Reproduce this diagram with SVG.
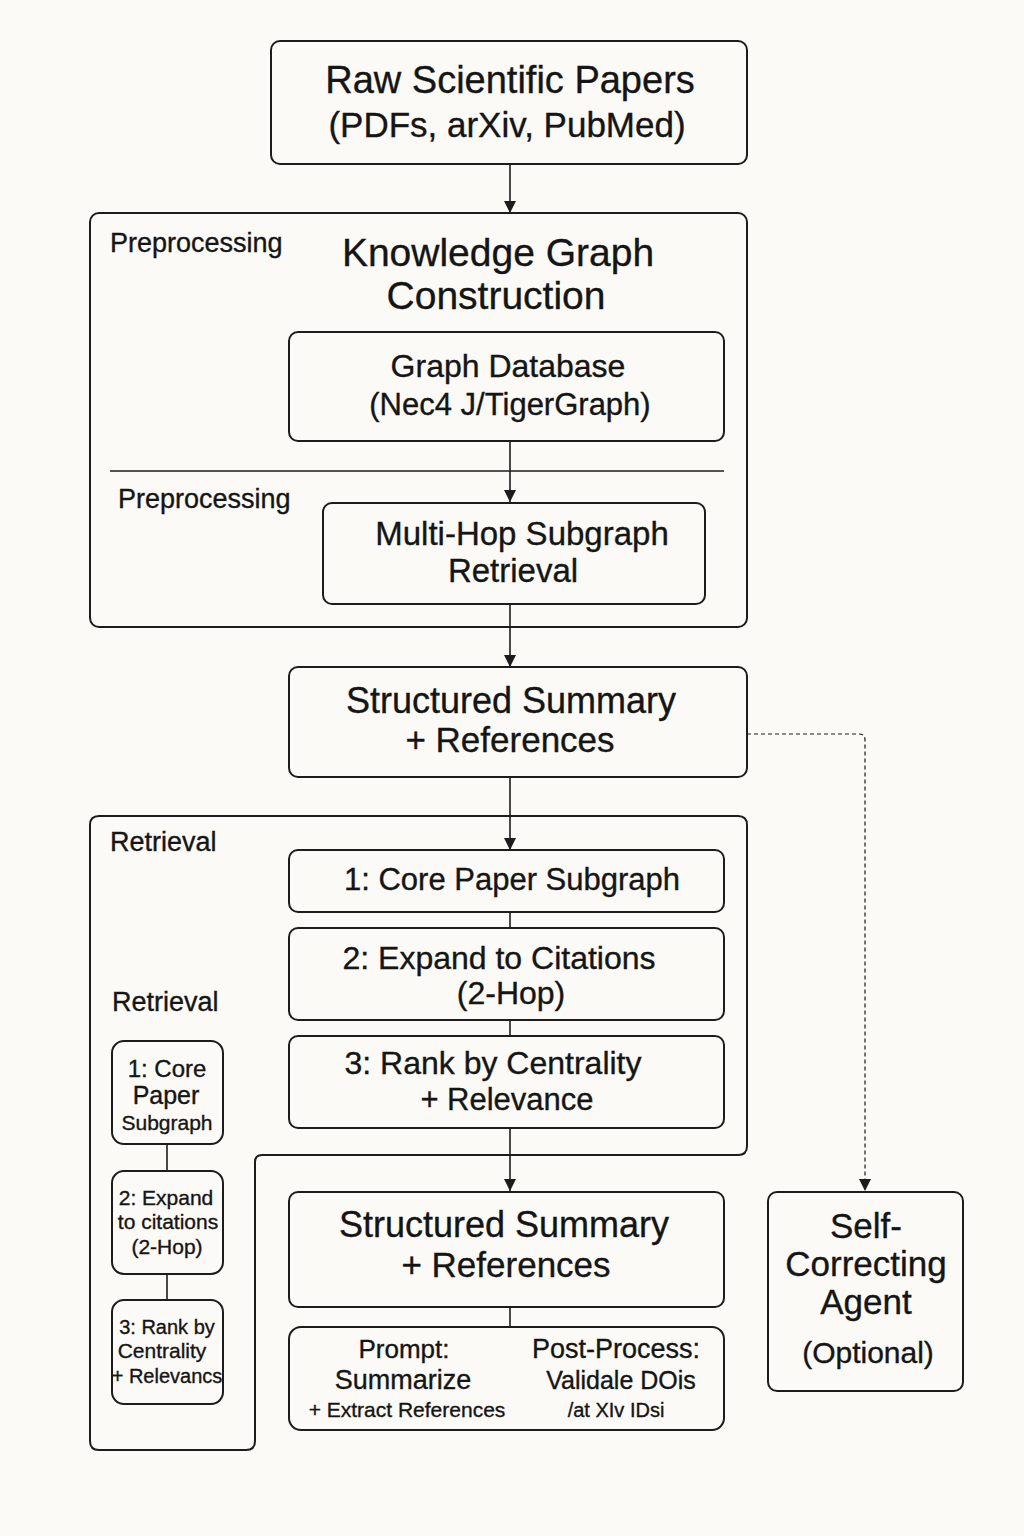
<svg xmlns="http://www.w3.org/2000/svg" width="1024" height="1536" viewBox="0 0 1024 1536">
<defs>
<marker id="ah" viewBox="0 0 12 12" refX="12" refY="6" markerWidth="12" markerHeight="12" markerUnits="userSpaceOnUse" orient="auto">
<path d="M0,0 L12,6 L0,12 Z" fill="#1c1c1c"/>
</marker>
<style>
.box{fill:none;stroke:#1c1c1c;stroke-width:2}
.ln{fill:none;stroke:#1c1c1c;stroke-width:1.6}
.dash{fill:none;stroke:#1c1c1c;stroke-width:1.2;stroke-dasharray:4 3}
text{font-family:"Liberation Sans",Arial,sans-serif;fill:#151515;stroke:#151515;stroke-width:0.35}
.c{text-anchor:middle}
</style>
</defs>
<rect width="1024" height="1536" fill="#fbfaf6"/>

<g id="connectors">
<line class="ln" x1="510" y1="164" x2="510" y2="213" marker-end="url(#ah)"/>
<line class="ln" x1="510" y1="441" x2="510" y2="502" marker-end="url(#ah)"/>
<line class="ln" x1="110" y1="471" x2="724" y2="471"/>
<line class="ln" x1="510" y1="604" x2="510" y2="667" marker-end="url(#ah)"/>
<line class="ln" x1="510" y1="777" x2="510" y2="850" marker-end="url(#ah)"/>
<line class="ln" x1="510" y1="912" x2="510" y2="928"/>
<line class="ln" x1="510" y1="1020" x2="510" y2="1036"/>
<line class="ln" x1="510" y1="1128" x2="510" y2="1191" marker-end="url(#ah)"/>
<line class="ln" x1="510" y1="1307" x2="510" y2="1327"/>
<line class="ln" x1="167" y1="1144" x2="167" y2="1171"/>
<line class="ln" x1="167" y1="1274" x2="167" y2="1300"/>
<path class="dash" d="M747,734 H859 Q865,734 865,740 V1191" marker-end="url(#ah)"/>
</g>

<g id="raw-papers">
<rect class="box" x="271" y="41" width="476" height="123" rx="9"/>
<text class="c" x="510" y="93" font-size="38">Raw Scientific Papers</text>
<text class="c" x="507" y="137" font-size="35">(PDFs, arXiv, PubMed)</text>
</g>

<g id="preprocessing-panel">
<rect class="box" x="90" y="213" width="657" height="414" rx="9"/>
<text x="110" y="252" font-size="27">Preprocessing</text>
<text class="c" x="498" y="266" font-size="39">Knowledge Graph</text>
<text class="c" x="496" y="309" font-size="39">Construction</text>
<text x="118" y="508" font-size="27">Preprocessing</text>
</g>

<g id="graph-database">
<rect class="box" x="289" y="332" width="435" height="109" rx="9"/>
<text class="c" x="508" y="377" font-size="32">Graph Database</text>
<text class="c" x="510" y="415" font-size="31">(Nec4 J/TigerGraph)</text>
</g>

<g id="multi-hop">
<rect class="box" x="323" y="503" width="382" height="101" rx="9"/>
<text class="c" x="522" y="545" font-size="33">Multi-Hop Subgraph</text>
<text class="c" x="513" y="582" font-size="33">Retrieval</text>
</g>

<g id="structured-summary-1">
<rect class="box" x="289" y="667" width="458" height="110" rx="9"/>
<text class="c" x="511" y="713" font-size="36">Structured Summary</text>
<text class="c" x="510" y="752" font-size="35">+ References</text>
</g>

<g id="retrieval-panel">
<path class="box" d="M99,816 H738 Q747,816 747,825 V1146 Q747,1155 738,1155 H262 Q255,1155 255,1162 V1441 Q255,1450 246,1450 H99 Q90,1450 90,1441 V825 Q90,816 99,816 Z"/>
<text x="110" y="851" font-size="27">Retrieval</text>
<text x="112" y="1011" font-size="27">Retrieval</text>
</g>

<g id="step1">
<rect class="box" x="289" y="850" width="435" height="62" rx="9"/>
<text class="c" x="512" y="890" font-size="31">1: Core Paper Subgraph</text>
</g>

<g id="step2">
<rect class="box" x="289" y="928" width="435" height="92" rx="9"/>
<text class="c" x="499" y="969" font-size="32">2: Expand to Citations</text>
<text class="c" x="511" y="1004" font-size="32">(2-Hop)</text>
</g>

<g id="step3">
<rect class="box" x="289" y="1036" width="435" height="92" rx="9"/>
<text class="c" x="493" y="1074" font-size="32">3: Rank by Centrality</text>
<text class="c" x="507" y="1110" font-size="31">+ Relevance</text>
</g>

<g id="small-step1">
<rect class="box" x="112" y="1041" width="111" height="103" rx="12"/>
<text class="c" x="167" y="1077" font-size="24">1: Core</text>
<text class="c" x="166" y="1104" font-size="25">Paper</text>
<text class="c" x="167" y="1130" font-size="21">Subgraph</text>
</g>

<g id="small-step2">
<rect class="box" x="112" y="1171" width="111" height="103" rx="12"/>
<text class="c" x="166" y="1205" font-size="21">2: Expand</text>
<text class="c" x="168" y="1229" font-size="21">to citations</text>
<text class="c" x="167" y="1254" font-size="21">(2-Hop)</text>
</g>

<g id="small-step3">
<rect class="box" x="112" y="1300" width="111" height="104" rx="12"/>
<text class="c" x="167" y="1334" font-size="20">3: Rank by</text>
<text class="c" x="162" y="1358" font-size="21">Centrality</text>
<text class="c" x="167" y="1383" font-size="20">+ Relevancs</text>
</g>

<g id="structured-summary-2">
<rect class="box" x="289" y="1192" width="435" height="115" rx="9"/>
<text class="c" x="504" y="1237" font-size="36">Structured Summary</text>
<text class="c" x="506" y="1277" font-size="35">+ References</text>
</g>

<g id="prompt-postprocess">
<rect class="box" x="289" y="1327" width="435" height="103" rx="12"/>
<text class="c" x="404" y="1358" font-size="26">Prompt:</text>
<text class="c" x="403" y="1389" font-size="27">Summarize</text>
<text class="c" x="407" y="1417" font-size="21">+ Extract References</text>
<text class="c" x="616" y="1358" font-size="27">Post-Process:</text>
<text class="c" x="621" y="1389" font-size="25">Validale DOis</text>
<text class="c" x="616" y="1417" font-size="20">/at XIv  IDsi</text>
</g>

<g id="self-correcting-agent">
<rect class="box" x="768" y="1192" width="195" height="199" rx="9"/>
<text class="c" x="866" y="1238" font-size="35">Self-</text>
<text class="c" x="866" y="1276" font-size="35">Correcting</text>
<text class="c" x="866" y="1314" font-size="35">Agent</text>
<text class="c" x="868" y="1363" font-size="30">(Optional)</text>
</g>
</svg>
